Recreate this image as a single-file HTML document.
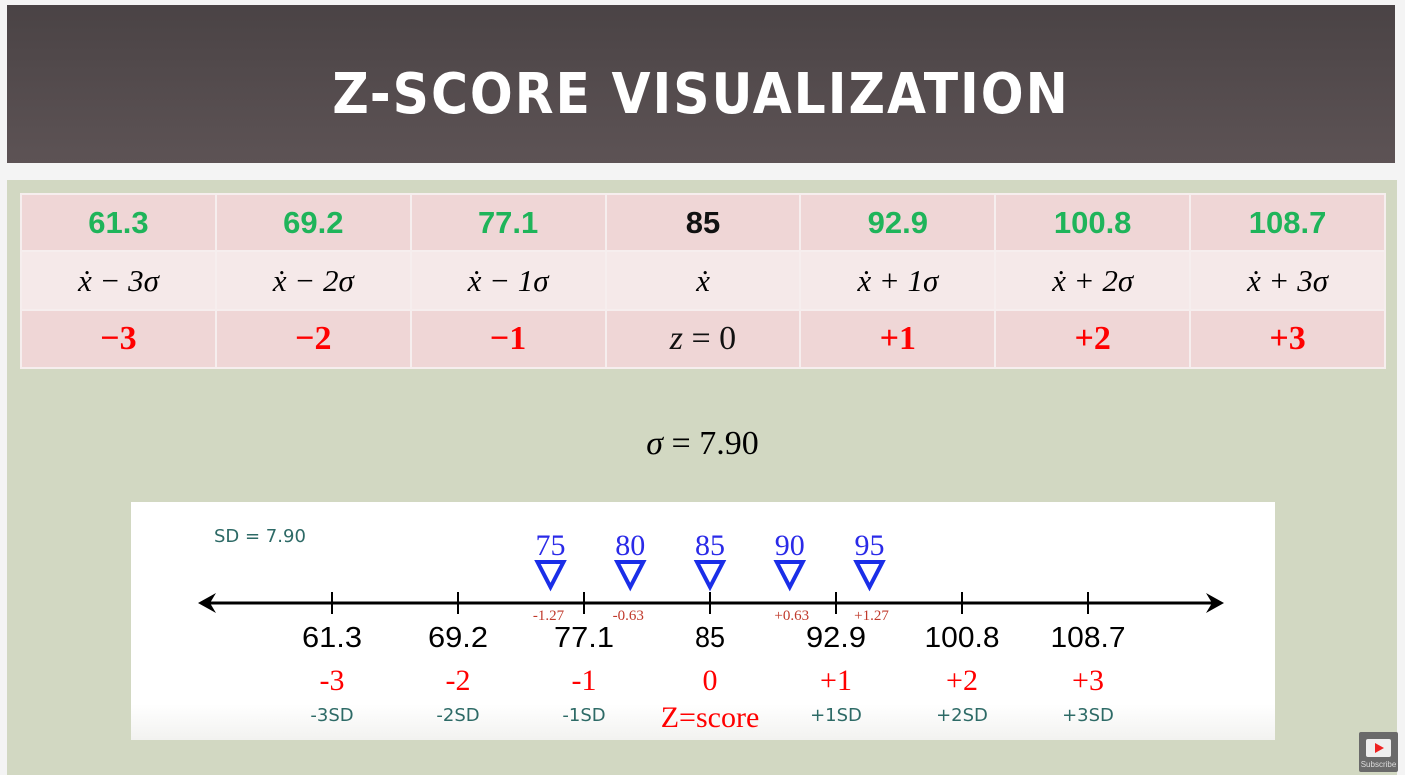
<!DOCTYPE html>
<html><head><meta charset="utf-8"><style>
body{margin:0;width:1405px;height:775px;overflow:hidden;background:#f4f4f4;position:relative;font-family:"Liberation Sans",sans-serif}
.abs{position:absolute}
#title{left:7px;top:5px;width:1388px;height:158px;background:linear-gradient(#4a4345,#5d5355);color:#fff;font-size:56px;font-weight:bold;letter-spacing:2px;text-align:center;line-height:180px;font-family:"DejaVu Sans Condensed","Liberation Sans Narrow","Liberation Sans",sans-serif}
#panel{left:7px;top:180px;width:1390px;height:595px;background:#d2d8c2}
table{position:absolute;left:20px;top:193px;width:1366px;table-layout:fixed;border-collapse:collapse}
td{text-align:center;border:2px solid #f6eeee;padding:0;box-sizing:border-box}
tr.r1 td{height:57px;background:#efd6d6;color:#1fb45a;font-weight:bold;font-size:31px}
tr.r2 td{height:59px;background:#f5e9e9;font-family:"Liberation Serif",serif;font-size:31px;font-style:italic}
tr.r3 td{height:58px;background:#efd6d6;color:#f00;font-family:"Liberation Serif",serif;font-weight:bold;font-size:34px}
#sigma{left:0;width:1405px;top:425px;text-align:center;font-family:"Liberation Serif",serif;font-size:34px}
#box{left:131px;top:502px;width:1144px;height:238px;background:linear-gradient(#fff 85%,#f2f2f0)}
</style></head><body>
<div class="abs" id="title">Z-SCORE VISUALIZATION</div>
<div class="abs" id="panel"></div>
<table>
<tr class="r1"><td>61.3</td><td>69.2</td><td>77.1</td><td style="color:#111">85</td><td>92.9</td><td>100.8</td><td>108.7</td></tr>
<tr class="r2"><td>ẋ − 3σ</td><td>ẋ − 2σ</td><td>ẋ − 1σ</td><td>ẋ</td><td>ẋ + 1σ</td><td>ẋ + 2σ</td><td>ẋ + 3σ</td></tr>
<tr class="r3"><td>−3</td><td>−2</td><td>−1</td><td style="color:#111;font-weight:normal;font-style:italic">z <span style="font-style:normal">= 0</span></td><td>+1</td><td>+2</td><td>+3</td></tr>
</table>
<div class="abs" id="sigma"><i>σ</i> = 7.90</div>
<div class="abs" id="box"></div>
<svg class="abs" style="left:0;top:0" width="1405" height="775" id="chart">
<text x="214" y="542" font-size="18" fill="#2d6a66" font-family="DejaVu Sans,sans-serif">SD = 7.90</text>
<line x1="208" y1="603" x2="1214" y2="603" stroke="#000" stroke-width="3"/>
<path d="M198,603 L216,593 L210,603 L216,613 Z"/>
<path d="M1224,603 L1206,593 L1212,603 L1206,613 Z"/>
<g id="g"></g>
</svg>
<div class="abs" style="left:1359px;top:732px;width:39px;height:40px;background:#6a6a6a;border-radius:2px">
<div class="abs" style="left:7px;top:7px;width:25px;height:18px;background:#eee;border-radius:2px"></div>
<div class="abs" style="left:16px;top:11px;width:0;height:0;border-left:9px solid #e22;border-top:5px solid transparent;border-bottom:5px solid transparent"></div>
<div class="abs" style="left:0;top:28px;width:39px;text-align:center;font-size:8px;color:#ddd">Subscribe</div>
</div>
<script>
const mean=85, sd=7.9;
const zTicks=[-3,-2,-1,0,1,2,3];
const tickLabels=["61.3","69.2","77.1","85","92.9","100.8","108.7"];
const zLabels=["-3","-2","-1","0","+1","+2","+3"];
const sdLabels=["-3SD","-2SD","-1SD","","+1SD","+2SD","+3SD"];
const scores=[75,80,85,90,95];
const scoreZ=["-1.27","-0.63","","+0.63","+1.27"];
const x0=710, unit=126;
function xz(z){return x0+z*unit;}
function xv(v){return xz((v-mean)/sd);}
const g=document.getElementById('g');
const NS="http://www.w3.org/2000/svg";
function mk(tag,attrs,txt){const e=document.createElementNS(NS,tag);for(const k in attrs)e.setAttribute(k,attrs[k]);if(txt!==undefined)e.textContent=txt;g.appendChild(e);return e;}
zTicks.forEach((z,i)=>{
 const x=xz(z);
 let e=mk('line',{x1:x,y1:592,x2:x,y2:614,stroke:'#000','stroke-width':2});
 
 
 e=mk('text',{x:x,y:647,'text-anchor':'middle','font-size':29,fill:'#000','font-family':'Liberation Sans Narrow,Liberation Sans,sans-serif',textLength:tickLabels[i].length*15,lengthAdjust:'spacingAndGlyphs'},tickLabels[i]);
 
 
 e=mk('text',{x:x,y:690,'text-anchor':'middle','font-size':30,fill:'#f00','font-family':'Liberation Serif,serif'},zLabels[i]);
 
 
 if(sdLabels[i]){
 e=mk('text',{x:x,y:721,'text-anchor':'middle','font-size':18,fill:'#2d6a66','font-family':'DejaVu Sans,sans-serif'},sdLabels[i]);
 
 }
});
let zs=mk('text',{x:xz(0),y:727,'text-anchor':'middle','font-size':30,fill:'#f00','font-family':'Liberation Serif,serif'},'Z=score');


scores.forEach((v,i)=>{
 const x=xv(v);
 let e=mk('text',{x:x,y:555,'text-anchor':'middle','font-size':30,fill:'#2a2ae8','font-family':'Liberation Serif,serif'},String(v));
 
 
 e=mk('path',{d:`M${x-13},562 L${x+13},562 L${x},587 Z`,fill:'#fff',stroke:'#1a2ee8','stroke-width':4});
 
 
 if(scoreZ[i]){
 e=mk('text',{x:x+(v<mean?-2:2),y:620,'text-anchor':'middle','font-size':15,fill:'#c0392b','font-family':'Liberation Serif,serif'},scoreZ[i]);
 
 }
});
</script>
</body></html>
